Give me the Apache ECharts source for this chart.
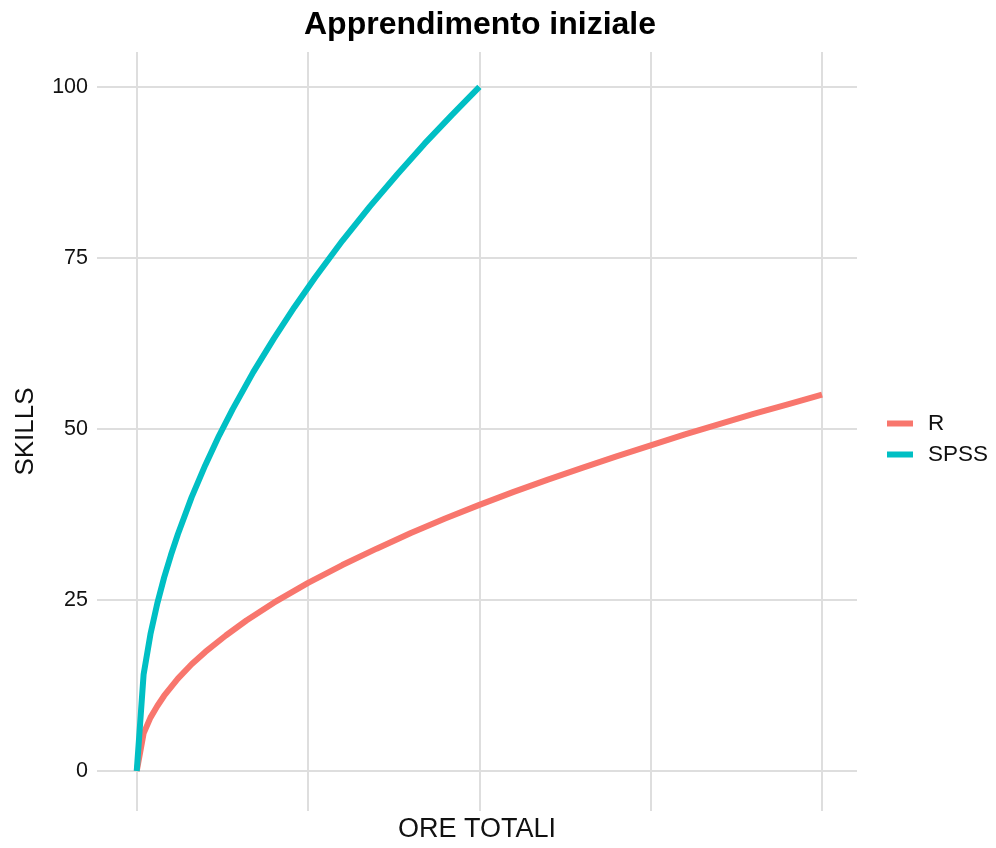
<!DOCTYPE html>
<html>
<head>
<meta charset="utf-8">
<style>
html,body{margin:0;padding:0;background:#fff;}
#chart{width:996px;height:848px;}
</style>
<script src="https://cdn.jsdelivr.net/npm/echarts@6/dist/echarts.min.js"></script>
</head>
<body>
<div id="chart"></div>
<script>
// Values (x = hours, arbitrary units 0..100)
const seriesNames = ['R', 'SPSS'];
const rHours   = [0, 1, 2, 3, 4, 6, 8, 10, 13, 16, 20, 25, 30, 35, 40, 45, 50, 55, 60, 65, 70, 75, 80, 85, 90, 95, 100];
const rSkills  = [0, 5.5, 7.8, 9.5, 11.0, 13.5, 15.6, 17.4, 19.8, 22.0, 24.6, 27.5, 30.1, 32.5, 34.8, 36.9, 38.9, 40.8, 42.6, 44.3, 46.0, 47.6, 49.2, 50.7, 52.2, 53.6, 55.0];
const spssHours  = [0, 1, 2, 3, 4, 5, 6, 8, 10, 12, 14, 17, 20, 23, 26, 30, 34, 38, 42, 46, 50];
const spssSkills = [0, 14.1, 20.0, 24.5, 28.3, 31.6, 34.6, 40.0, 44.7, 49.0, 52.9, 58.3, 63.2, 67.8, 72.1, 77.5, 82.5, 87.2, 91.7, 95.9, 100];
const xGridValues = [0, 25, 50, 75, 100];
const yTickValues = [0, 25, 50, 75, 100];
const colors = ['#F8766D', '#00BFC4'];

const pairs = (xs, ys) => xs.map((x, i) => [x, ys[i]]);
const FONT = '"Liberation Sans", Arial, Helvetica, sans-serif';
const GRID = '#DEDEDE';

const chart = echarts.init(document.getElementById('chart'), null, {renderer: 'canvas'});
chart.setOption({
  animation: false,
  backgroundColor: '#ffffff',
  textStyle: {fontFamily: FONT},
  title: {
    text: 'Apprendimento iniziale',
    left: 475, top: 4, textAlign: 'center',
    textStyle: {fontFamily: FONT, fontSize: 32, fontWeight: 'bold', color: '#000'}
  },
  legend: {
    orient: 'vertical',
    left: 882, top: 407,
    itemWidth: 26, itemHeight: 6, itemGap: 8,
    icon: 'rect',
    data: seriesNames,
    textStyle: {fontFamily: FONT, fontSize: 22.5, color: '#111', lineHeight: 22, padding: [0, 0, 0, 10]}
  },
  grid: {left: 97, right: 139, top: 52, bottom: 35, containLabel: false},
  xAxis: {
    type: 'value',
    min: -5.8, max: 105.1,
    name: 'ORE TOTALI', nameLocation: 'middle', nameGap: 5,
    nameTextStyle: {fontFamily: FONT, fontSize: 27, color: '#111', verticalAlign: 'top'},
    axisLine: {show: false},
    axisTick: {show: false, customValues: xGridValues},
    axisLabel: {show: false, customValues: xGridValues},
    splitLine: {show: true, lineStyle: {color: GRID, width: 2}}
  },
  yAxis: {
    type: 'value',
    min: -5.85, max: 105.1,
    name: 'SKILLS', nameLocation: 'middle', nameGap: 58, nameRotate: 90,
    nameTextStyle: {fontFamily: FONT, fontSize: 26, color: '#111'},
    axisLine: {show: false},
    axisTick: {show: false, customValues: yTickValues},
    axisLabel: {show: true, customValues: yTickValues, margin: 9, fontFamily: FONT, fontSize: 21.5, color: '#111'},
    splitLine: {show: true, lineStyle: {color: GRID, width: 2}}
  },
  series: [
    {name: 'R', type: 'line', data: pairs(rHours, rSkills), showSymbol: false, symbol: 'none',
     lineStyle: {color: colors[0], width: 6}, itemStyle: {color: colors[0]}, clip: false},
    {name: 'SPSS', type: 'line', data: pairs(spssHours, spssSkills), showSymbol: false, symbol: 'none',
     lineStyle: {color: colors[1], width: 6}, itemStyle: {color: colors[1]}, clip: false}
  ]
});
</script>
</body>
</html>
